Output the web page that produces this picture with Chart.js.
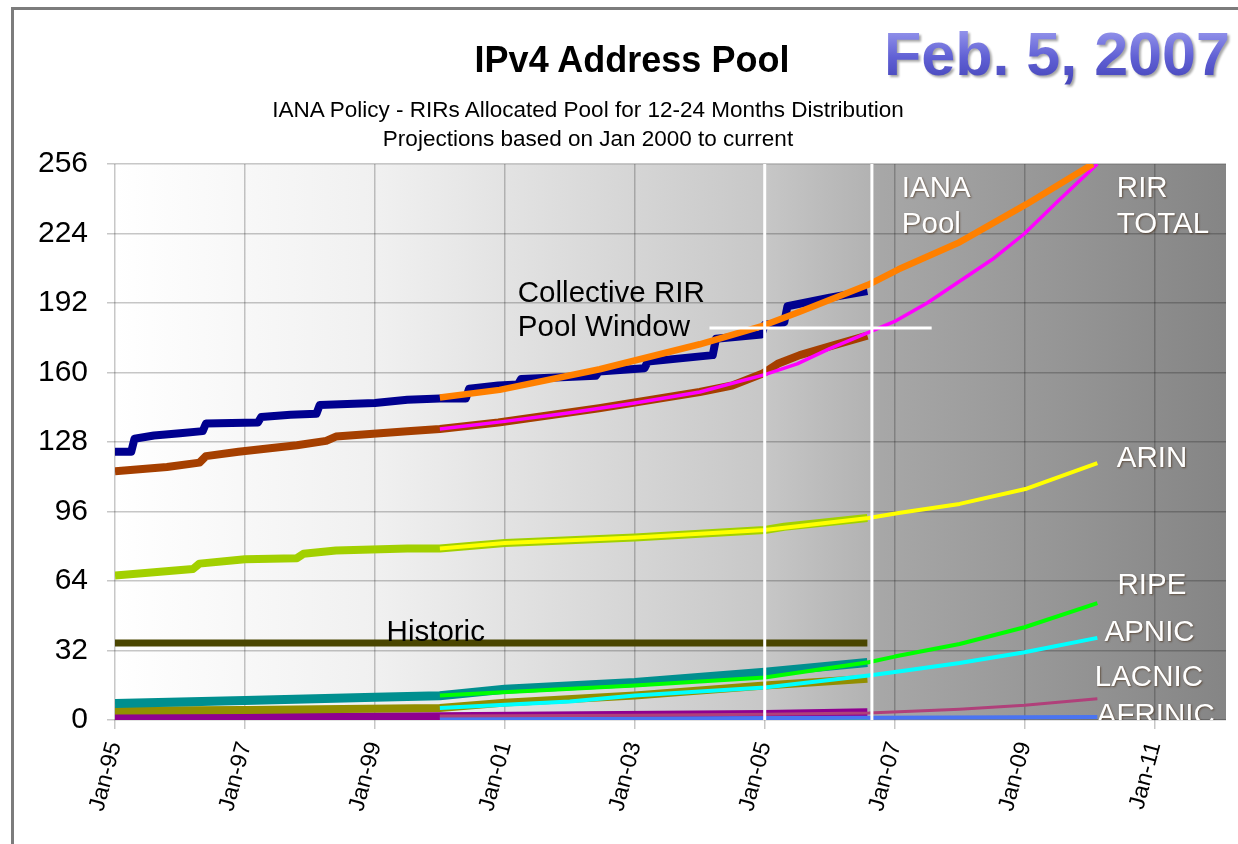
<!DOCTYPE html>
<html>
<head>
<meta charset="utf-8">
<title>IPv4 Address Pool</title>
<script src="https://cdn.jsdelivr.net/npm/chart.js@4.4.1/dist/chart.umd.min.js"></script>
<style>
  html, body { margin: 0; padding: 0; background: #fff; }
  body { width: 1238px; height: 844px; position: relative; overflow: hidden;
         font-family: 'Liberation Sans', Arial, sans-serif; }
  #frame { position: absolute; left: 11px; top: 7px; width: 1240px; height: 850px;
           border-left: 3px solid #7c7c7c; border-top: 3px solid #7c7c7c; }
  #chartWrap { position: absolute; left: 0; top: 0; width: 1238px; height: 844px; }
  .title { position: absolute; left: 632px; top: 39px; transform: translateX(-50%);
           font-size: 36px; font-weight: bold; color: #000; white-space: nowrap; }
  .sub { position: absolute; left: 588px; transform: translateX(-50%);
         font-size: 22.5px; color: #000; white-space: nowrap; }
  .date { position: absolute; left: 884px; top: 19px; font-size: 61px; font-weight: bold;
          white-space: nowrap; color: #5656c8;
          background: linear-gradient(#a8a8f4, #6060d4 55%, #4040b4);
          -webkit-background-clip: text; background-clip: text; -webkit-text-fill-color: transparent;
          filter: drop-shadow(2px 2px 1px rgba(0,0,0,0.35)); }
</style>
</head>
<body>
<div id="frame"></div>
<div id="chartWrap"><canvas id="poolChart" width="1238" height="844"></canvas></div>
<div class="title">IPv4 Address Pool</div>
<div class="sub" style="top:97px">IANA Policy - RIRs Allocated Pool for 12-24 Months Distribution</div>
<div class="sub" style="top:126px">Projections based on Jan 2000 to current</div>
<div class="date">Feb. 5, 2007</div>

<script>
// ── Axis ticks ──────────────────────────────────────────────────────
const xTickYears  = [1995, 1997, 1999, 2001, 2003, 2005, 2007, 2009, 2011];
const xTickLabels = ['Jan-95', 'Jan-97', 'Jan-99', 'Jan-01', 'Jan-03', 'Jan-05', 'Jan-07', 'Jan-09', 'Jan-11'];
const yTickValues = [0, 32, 64, 96, 128, 160, 192, 224, 256];

// ── Historic series (/8 blocks, by decimal year) ────────────────────
const ianaUsedYears  = [1995.0, 1995.25, 1995.3, 1995.6, 1996.0, 1996.35, 1996.4, 1997.2, 1997.25, 1997.7, 1998.1, 1998.15, 1999.0, 1999.5, 2000.0, 2000.4, 2000.45, 2000.9, 2001.2, 2001.25, 2002.4, 2002.45, 2003.15, 2003.2, 2004.2, 2004.25, 2004.95, 2005.0, 2005.3, 2005.35, 2006.0, 2006.58];
const ianaUsedValues = [123.5, 123.5, 129.5, 131, 132, 133, 136.5, 137, 139.5, 140.5, 141, 145, 146, 147.5, 148, 148, 152.5, 154, 154.5, 157, 158.5, 160.5, 162, 165, 168, 175.5, 177.5, 182, 183, 190.5, 194.5, 197.5];

const rirTotalYears  = [1995.0, 1995.8, 1996.3, 1996.4, 1996.9, 1997.8, 1998.25, 1998.4, 1999.5, 2000.0, 2000.9, 2002.45, 2004.0, 2004.5, 2004.97, 2005.2, 2005.54, 2006.0, 2006.58];
const rirTotalValues = [114.5, 116.5, 118.5, 121.5, 123.5, 126.5, 128.5, 130.5, 133, 134, 137, 143.5, 151, 154, 159.5, 164, 168, 172, 177];

const arinHistYears  = [1995.0, 1996.2, 1996.3, 1997.0, 1997.8, 1997.9, 1998.4, 1999.5, 2000.0, 2001.0, 2003.0, 2005.0, 2005.3, 2006.58];
const arinHistValues = [66.5, 69.5, 72, 74, 74.5, 76.5, 78, 79, 79, 81.5, 84, 87.5, 89, 93];

const ripeHistYears  = [1995.0, 1997.0, 1999.0, 2000.0, 2001.0, 2003.0, 2005.0, 2006.58];
const ripeHistValues = [7.6, 9, 10.5, 11.2, 14.2, 17.3, 22, 26.5];

const apnicHistYears  = [1995.0, 1997.0, 2000.0, 2001.0, 2003.0, 2005.0, 2006.58];
const apnicHistValues = [4.4, 4.6, 5.5, 8, 11.3, 15.9, 19];

const lacnicHistYears  = [1995.0, 2000.0, 2005.0, 2006.58];
const lacnicHistValues = [1, 1.5, 2.5, 3.3];

const afrinicHistYears  = [1995.0, 2006.58];
const afrinicHistValues = [0, 0];

const historicYears  = [1995.0, 2006.58];
const historicValues = [35.5, 35.5];

// ── Projections from Jan 2000 ───────────────────────────────────────
const ianaProjYears  = [2000.0, 2000.92, 2002.46, 2004.0, 2004.97, 2005.54, 2006.6, 2007.06, 2008.0, 2009.03, 2010.05];
const ianaProjValues = [148.5, 152, 161.5, 173, 181.5, 188, 200.5, 207.5, 220, 237.5, 256];

const rirProjYears  = [2000.0, 2001.0, 2002.0, 2003.0, 2004.0, 2005.0, 2005.5, 2006.0, 2006.6, 2007.0, 2007.5, 2008.0, 2008.5, 2009.0, 2009.5, 2010.12];
const rirProjValues = [134, 137.5, 141.5, 146, 151, 159, 164, 171, 178.5, 183.5, 192, 202, 212, 224, 238.5, 256];

const arinProjYears  = [2000.0, 2001.0, 2003.0, 2005.0, 2006.6, 2007.06, 2008.0, 2009.03, 2010.12];
const arinProjValues = [79, 81.5, 84, 87.5, 93, 95.3, 99.5, 106.5, 118.3];

const ripeProjYears  = [2000.0, 2003.0, 2005.0, 2006.6, 2007.0, 2008.0, 2009.0, 2010.12];
const ripeProjValues = [11.3, 15.9, 19.6, 26.6, 29.2, 35, 42.7, 53.8];

const apnicProjYears  = [2000.0, 2002.0, 2003.0, 2005.0, 2006.6, 2007.06, 2008.0, 2009.0, 2010.12];
const apnicProjValues = [5.5, 8.5, 11.3, 15, 20.5, 22.3, 26.2, 31.2, 37.8];

const lacnicProjYears  = [2000.0, 2003.0, 2005.0, 2006.6, 2008.0, 2009.0, 2010.12];
const lacnicProjValues = [1.8, 2.2, 2.6, 3.2, 5, 6.8, 9.8];

const afrinicProjYears  = [2000.0, 2006.6, 2010.12];
const afrinicProjValues = [0.5, 1.0, 1.4];

// ── Pool window markers ─────────────────────────────────────────────
const windowStart  = 2005.0;
const windowEnd    = 2006.65;
const windowLevel  = 180.5;
const windowSpan   = [2004.15, 2007.57];

// ── Text annotations (data coordinates) ─────────────────────────────
const noteTexts = ['IANA', 'Pool', 'RIR', 'TOTAL', 'Collective RIR', 'Pool Window', 'ARIN', 'RIPE', 'APNIC', 'LACNIC', 'AFRINIC', 'Historic'];
const noteYears = [2007.11, 2007.11, 2010.42, 2010.42, 2001.2, 2001.2, 2010.42, 2010.43, 2010.23, 2010.08, 2010.11, 1999.18];
const noteLevels = [244.7, 228.1, 244.7, 228.1, 196.4, 180.7, 120.4, 61.9, 40.3, 19.6, 2.1, 40.3];
const noteDark  = [false, false, false, false, true, true, false, false, false, false, false, true];

// Colour palette
const C = {
  ianaUsed: '#00008f',
  rirTotal: '#a53f00',
  arinHist: '#a2d000',
  ripeHist: '#008f8f',
  apnicHist:'#928e00',
  lacnicHist:'#8f008f',
  afrinicHist:'#22ee22',
  historic: '#4a4600',
  ianaProj: '#ff8000',
  rirProj:  '#ff00ff',
  arinProj: '#ffff00',
  ripeProj: '#00ff00',
  apnicProj:'#00ffff',
  lacnicProj:'#b0407a',
  afrinicProj:'#4a74f2',
  white:    '#ffffff',
  grid:     'rgba(0,0,0,0.22)',
};

const FONT = "'Liberation Sans', Arial, sans-serif";

function pts(xs, ys) { return xs.map((x, i) => ({ x, y: ys[i] })); }

function line(label, xs, ys, color, width) {
  return {
    label,
    data: pts(xs, ys),
    borderColor: color,
    backgroundColor: color,
    borderWidth: width,
    pointRadius: 0,
    fill: false,
    tension: 0,
    borderCapStyle: 'butt',
    borderJoinStyle: 'round',
  };
}

// first dataset is drawn on top
const datasets = [
  line('Window start', [windowStart, windowStart], [0, 256], C.white, 3),
  line('Window end', [windowEnd, windowEnd], [0, 256], C.white, 3),
  line('Window level', windowSpan, [windowLevel, windowLevel], C.white, 3),
  line('IANA projection', ianaProjYears, ianaProjValues, C.ianaProj, 6.5),
  line('RIR projection', rirProjYears, rirProjValues, C.rirProj, 3.5),
  line('ARIN projection', arinProjYears, arinProjValues, C.arinProj, 4),
  line('RIPE projection', ripeProjYears, ripeProjValues, C.ripeProj, 4),
  line('APNIC projection', apnicProjYears, apnicProjValues, C.apnicProj, 4),
  line('LACNIC projection', lacnicProjYears, lacnicProjValues, C.lacnicProj, 3),
  line('AFRINIC projection', afrinicProjYears, afrinicProjValues, C.afrinicProj, 4),
  line('IANA allocated', ianaUsedYears, ianaUsedValues, C.ianaUsed, 8),
  line('RIR total', rirTotalYears, rirTotalValues, C.rirTotal, 8),
  line('ARIN', arinHistYears, arinHistValues, C.arinHist, 8),
  line('Historic', historicYears, historicValues, C.historic, 7),
  line('RIPE', ripeHistYears, ripeHistValues, C.ripeHist, 9),
  line('APNIC', apnicHistYears, apnicHistValues, C.apnicHist, 8),
  line('LACNIC', lacnicHistYears, lacnicHistValues, C.lacnicHist, 9),
  line('AFRINIC', afrinicHistYears, afrinicHistValues, C.afrinicHist, 2),
];

// background shading + text notes
const decorPlugin = {
  id: 'decor',
  beforeDraw(chart) {
    const { ctx, chartArea: a, scales } = chart;
    const xEnd = scales.x.getPixelForValue(windowEnd);
    ctx.save();
    let g = ctx.createLinearGradient(a.left, 0, xEnd, 0);
    g.addColorStop(0, '#ffffff');
    g.addColorStop(0.35, '#f0f0f0');
    g.addColorStop(0.6, '#dcdcdc');
    g.addColorStop(0.85, '#c8c8c8');
    g.addColorStop(1, '#b2b2b2');
    ctx.fillStyle = g;
    ctx.fillRect(a.left, a.top, xEnd - a.left, a.bottom - a.top);
    g = ctx.createLinearGradient(xEnd, 0, a.right, 0);
    g.addColorStop(0, '#a8a8a8');
    g.addColorStop(1, '#858585');
    ctx.fillStyle = g;
    ctx.fillRect(xEnd, a.top, a.right - xEnd, a.bottom - a.top);
    ctx.restore();
  },
  afterDatasetsDraw(chart) {
    const { ctx, chartArea: a, scales } = chart;
    ctx.save();
    ctx.beginPath();
    ctx.rect(a.left, a.top, a.right - a.left, a.bottom - a.top);
    ctx.clip();
    ctx.font = '29.5px ' + FONT;
    ctx.textAlign = 'left';
    ctx.textBaseline = 'middle';
    noteTexts.forEach((t, i) => {
      const x = scales.x.getPixelForValue(noteYears[i]);
      const y = scales.y.getPixelForValue(noteLevels[i]);
      if (noteDark[i]) {
        ctx.shadowColor = 'rgba(0,0,0,0)';
        ctx.fillStyle = '#000';
      } else {
        ctx.shadowColor = 'rgba(60,30,0,0.55)';
        ctx.shadowBlur = 2;
        ctx.shadowOffsetX = 1;
        ctx.shadowOffsetY = 1;
        ctx.fillStyle = '#fff';
      }
      ctx.fillText(t, x, y);
    });
    ctx.restore();
  },
};

new Chart(document.getElementById('poolChart'), {
  type: 'line',
  data: { datasets },
  plugins: [decorPlugin],
  options: {
    responsive: false,
    animation: false,
    events: [],
    layout: { padding: { top: 164, right: 12, left: 0, bottom: 0 } },
    plugins: { legend: { display: false }, tooltip: { enabled: false }, title: { display: false } },
    scales: {
      x: {
        type: 'linear',
        min: 1995,
        max: 2012.1,
        afterBuildTicks(scale) { scale.ticks = xTickYears.map(v => ({ value: v })); },
        afterFit(scale) { scale.height = 124; },
        grid: { color: C.grid, lineWidth: 1.5, tickLength: 9 },
        border: { display: false },
        ticks: {
          autoSkip: false,
          minRotation: 75,
          maxRotation: 75,
          padding: 10,
          color: '#000',
          font: { family: FONT, size: 23 },
          callback: (v, i) => xTickLabels[i],
        },
      },
      y: {
        min: 0,
        max: 256,
        afterBuildTicks(scale) { scale.ticks = yTickValues.map(v => ({ value: v })); },
        afterFit(scale) { scale.width = 115; },
        grid: { color: C.grid, lineWidth: 1.5, tickLength: 8 },
        border: { display: false },
        ticks: {
          padding: 19,
          color: '#000',
          font: { family: FONT, size: 30 },
        },
      },
    },
  },
});
</script>
</body>
</html>
